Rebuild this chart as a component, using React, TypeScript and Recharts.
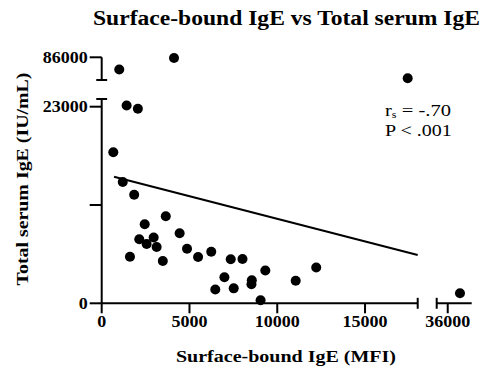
import React from 'react';
import { ScatterChart, Scatter, XAxis, YAxis, ReferenceLine } from 'recharts';

// Surface-bound IgE (MFI) / total serum IgE (IU/mL), points under the y break, left of the x break
const mfiLow = [1420, 2060, 660, 1200, 1850, 3650, 2450, 2140, 2960, 2560, 3130, 1610, 3480, 4440, 4860, 5490, 6240, 7350, 8020, 9320, 6990, 6470, 7520, 8550, 8530, 9050, 11050, 12220];
const igeLow = [23140, 22750, 17670, 14190, 12690, 10190, 9250, 7500, 7700, 6940, 6590, 5450, 4950, 8190, 6380, 5420, 6040, 5150, 5180, 3840, 3040, 1610, 1750, 2700, 2230, 360, 2630, 4190];

// points above the y break
const mfiHigh = [1000, 4120, 17430];
const igeHigh = [84560, 85920, 83510];

// point right of the x break
const mfiFar = [36700];
const igeFar = [1170];

// trend line end points
const trendMfi = [700, 18000];
const trendIge = [14810, 5650];

const xTicksLeft = [0, 5000, 10000, 15000];
const xTicksRight = [36000];
const yTicksLow = [0, 11500, 23000];
const yTicksHigh = [86000];

const xDomainLeft = [0, 18000];
const xDomainRight = [35370, 37370];
const yDomainLow = [0, 23900];
const yDomainHigh = [83310, 86000];

const W = 483;
const H = 371;
const FONT = '"Liberation Serif", "Times New Roman", serif';

const toPoints = (xs: number[], ys: number[]) => xs.map((x, i) => ({ x, y: ys[i] }));

const lowData = toPoints(mfiLow, igeLow);
const highData = toPoints(mfiHigh, igeHigh);
const farData = toPoints(mfiFar, igeFar);
const trendLine = toPoints(trendMfi, trendIge);

// little caps at the axis breaks (in data units)
const CAP_X = 310;
const CAP_Y = 640;

const Dot = (props: any) => <circle cx={props.cx} cy={props.cy} r={5} fill="#000" />;

const makeTick = (vertical: boolean) => (props: any) => {
  const { x, y, payload } = props;
  if (payload.value === 11500) return <g />;
  const label = String(payload.value);
  return (
    <text
      x={x}
      y={y}
      dy={vertical ? '0.36em' : '0.71em'}
      textAnchor={vertical ? 'end' : 'middle'}
      fontFamily={FONT}
      fontWeight="bold"
      fontSize={16}
      fill="#000"
      textLength={label.length * 9}
      lengthAdjust="spacingAndGlyphs"
    >
      {label}
    </text>
  );
};

const axisStroke = { stroke: '#000', strokeWidth: 2 };
const layer: React.CSSProperties = { position: 'absolute', left: 0, top: 0 };

export default function App() {
  return (
    <div style={{ position: 'absolute', left: 0, top: 0, width: W, height: H, background: '#fff' }}>
      {/* lower-left panel */}
      <div style={layer}>
        <ScatterChart width={W} height={H} margin={{ top: 99, right: 65.3, bottom: 7.7, left: 0 }}>
          <XAxis
            type="number"
            dataKey="x"
            domain={xDomainLeft}
            ticks={xTicksLeft}
            height={60}
            tickSize={10}
            tickMargin={2}
            axisLine={axisStroke}
            tickLine={axisStroke}
            tick={makeTick(false)}
          />
          <YAxis
            type="number"
            dataKey="y"
            domain={yDomainLow}
            ticks={yTicksLow}
            width={101.7}
            tickSize={12}
            tickMargin={2}
            axisLine={axisStroke}
            tickLine={axisStroke}
            tick={makeTick(true)}
          />
          <ReferenceLine segment={trendLine} stroke="#000" strokeWidth={2} />
          <ReferenceLine
            segment={[{ x: -CAP_X, y: yDomainLow[1] }, { x: CAP_X, y: yDomainLow[1] }]}
            stroke="#000"
            strokeWidth={2}
            ifOverflow="visible"
          />
          <ReferenceLine
            segment={[{ x: xDomainLeft[1], y: -CAP_Y }, { x: xDomainLeft[1], y: CAP_Y }]}
            stroke="#000"
            strokeWidth={2}
            ifOverflow="visible"
          />
          <Scatter data={lowData} shape={Dot} isAnimationActive={false} />
        </ScatterChart>
      </div>

      {/* upper-left panel */}
      <div style={layer}>
        <ScatterChart width={W} height={H} margin={{ top: 57.3, right: 65.3, bottom: 291, left: 0 }}>
          <XAxis type="number" dataKey="x" domain={xDomainLeft} hide />
          <YAxis
            type="number"
            dataKey="y"
            domain={yDomainHigh}
            ticks={yTicksHigh}
            width={101.7}
            tickSize={12}
            tickMargin={2}
            axisLine={axisStroke}
            tickLine={axisStroke}
            tick={makeTick(true)}
          />
          <ReferenceLine
            segment={[{ x: -CAP_X, y: yDomainHigh[0] }, { x: CAP_X, y: yDomainHigh[0] }]}
            stroke="#000"
            strokeWidth={2}
            ifOverflow="visible"
          />
          <Scatter data={highData} shape={Dot} isAnimationActive={false} />
        </ScatterChart>
      </div>

      {/* lower-right panel */}
      <div style={layer}>
        <ScatterChart width={W} height={H} margin={{ top: 99, right: 11.3, bottom: 7.7, left: 436.7 }}>
          <XAxis
            type="number"
            dataKey="x"
            domain={xDomainRight}
            ticks={xTicksRight}
            height={60}
            tickSize={10}
            tickMargin={2}
            axisLine={axisStroke}
            tickLine={axisStroke}
            tick={makeTick(false)}
          />
          <YAxis type="number" dataKey="y" domain={yDomainLow} width={0} hide />
          <ReferenceLine
            segment={[{ x: xDomainRight[0], y: -CAP_Y }, { x: xDomainRight[0], y: CAP_Y }]}
            stroke="#000"
            strokeWidth={2}
            ifOverflow="visible"
          />
          <Scatter data={farData} shape={Dot} isAnimationActive={false} />
        </ScatterChart>
      </div>

      {/* titles and annotation */}
      <svg width={W} height={H} style={{ ...layer, pointerEvents: 'none' }}>
        <text x={286.5} y={25} textAnchor="middle" fontFamily={FONT} fontWeight="bold" fontSize={20} textLength={387} lengthAdjust="spacingAndGlyphs">
          Surface-bound IgE vs Total serum IgE
        </text>
        <text x={286} y={361.7} textAnchor="middle" fontFamily={FONT} fontWeight="bold" fontSize={17} textLength={220} lengthAdjust="spacingAndGlyphs">
          Surface-bound IgE (MFI)
        </text>
        <text
          x={27.5}
          y={179}
          transform="rotate(-90, 27.5, 179)"
          textAnchor="middle"
          fontFamily={FONT}
          fontWeight="bold"
          fontSize={17}
          textLength={213}
          lengthAdjust="spacingAndGlyphs"
        >
          Total serum IgE (IU/mL)
        </text>
        <text x={385} y={116} fontFamily={FONT} fontSize={17} textLength={66} lengthAdjust="spacingAndGlyphs">
          r<tspan fontSize={10} dy={2}>s</tspan>
          <tspan dy={-2}> = -.70</tspan>
        </text>
        <text x={385} y={136} fontFamily={FONT} fontSize={17} textLength={66.7} lengthAdjust="spacingAndGlyphs">
          P &lt; .001
        </text>
      </svg>
    </div>
  );
}
